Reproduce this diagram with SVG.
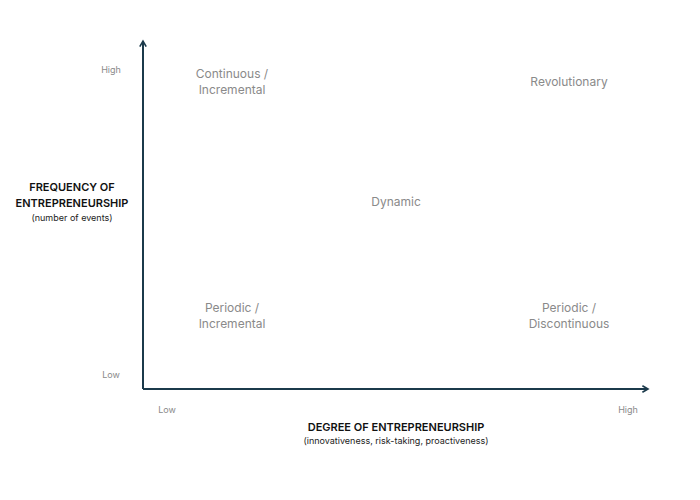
<svg xmlns="http://www.w3.org/2000/svg" width="700" height="500" viewBox="0 0 700 500">
<style>
.q{font-family:Inter,"Noto Sans","Liberation Sans",sans-serif;font-size:12px;fill:#8a8a8a;text-anchor:middle}
.t{font-family:Inter,"Noto Sans","Liberation Sans",sans-serif;font-size:9px;fill:#8a8a8a;text-anchor:middle}
.h{font-family:Inter,"Noto Sans","Liberation Sans",sans-serif;font-size:11px;font-weight:600;fill:#111;text-anchor:middle}
.s{font-family:Inter,"Noto Sans","Liberation Sans",sans-serif;font-size:9px;fill:#222;text-anchor:middle}
.ax{stroke:#1b3a4b;stroke-width:2;fill:none}
</style>
<defs>
<marker id="ah" viewBox="0 0 10 10" refX="8" refY="5" markerWidth="4" markerHeight="4" orient="auto" markerUnits="strokeWidth">
<path d="M1,1 L8,5 L1,9" fill="none" stroke="#1b3a4b" stroke-width="2"/>
</marker>
</defs>
<rect width="700" height="500" fill="#fff"/>
<g id="connectors">
<path class="ax" d="M143,389 L143,41" marker-end="url(#ah)"/>
<path class="ax" d="M143,389 L648,389" marker-end="url(#ah)"/>
</g>
<g id="y-axis-label">
<text class="h" x="72" y="191">FREQUENCY OF</text>
<text class="h" x="72" y="207">ENTREPRENEURSHIP</text>
<text class="s" x="72" y="221">(number of events)</text>
</g>
<g id="x-axis-label">
<text class="h" x="396" y="431">DEGREE OF ENTREPRENEURSHIP</text>
<text class="s" x="396" y="444">(innovativeness, risk-taking, proactiveness)</text>
</g>
<g id="ticks">
<text class="t" x="111" y="73">High</text>
<text class="t" x="111" y="378">Low</text>
<text class="t" x="167" y="413">Low</text>
<text class="t" x="628" y="413">High</text>
</g>
<g id="continuous-incremental">
<text class="q" x="232" y="78">Continuous /</text>
<text class="q" x="232" y="94">Incremental</text>
</g>
<g id="revolutionary">
<text class="q" x="569" y="86">Revolutionary</text>
</g>
<g id="dynamic">
<text class="q" x="396" y="206">Dynamic</text>
</g>
<g id="periodic-incremental">
<text class="q" x="232" y="312">Periodic /</text>
<text class="q" x="232" y="328">Incremental</text>
</g>
<g id="periodic-discontinuous">
<text class="q" x="569" y="312">Periodic /</text>
<text class="q" x="569" y="328">Discontinuous</text>
</g>
</svg>
